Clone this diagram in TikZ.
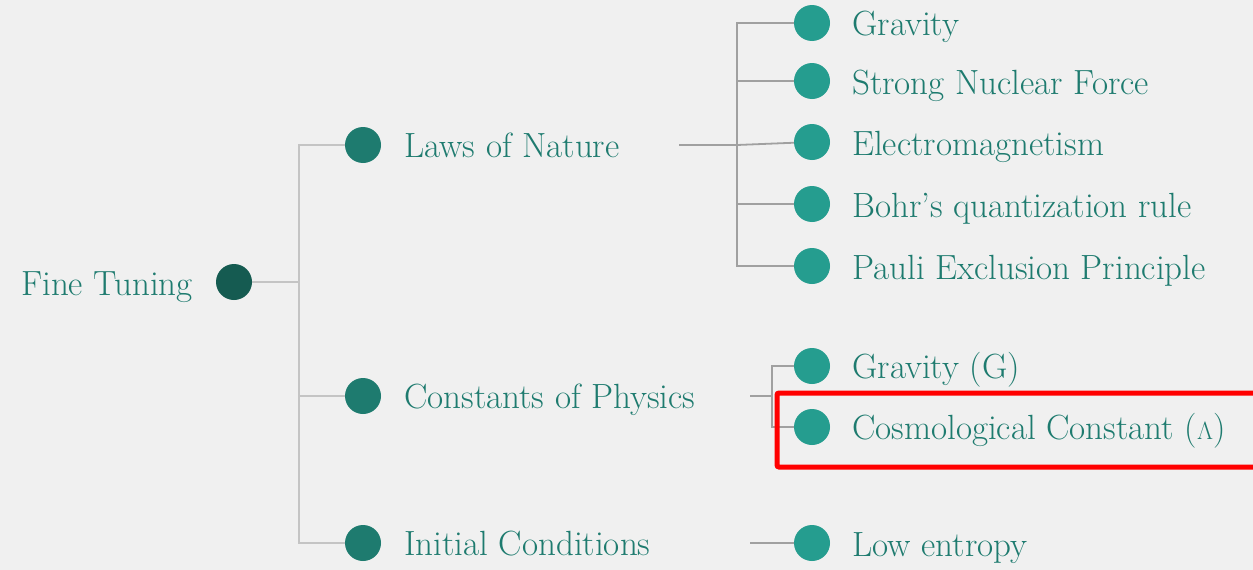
\documentclass[tikz,border=0pt]{standalone}
\definecolor{bg}{HTML}{F0F0F0}
\definecolor{txt}{HTML}{1E7B6F}
\definecolor{dotroot}{HTML}{155B51}
\definecolor{dotone}{HTML}{1E7B6F}
\definecolor{dottwo}{HTML}{259D8F}
\definecolor{lineone}{HTML}{C4C4C4}
\definecolor{linetwo}{HTML}{A0A0A0}
\begin{document}
\begin{tikzpicture}[x=1pt,y=-1pt,
  lbl/.style={anchor=base west,inner sep=0pt,text=txt,font=\fontsize{35}{42}\selectfont},
  rootlbl/.style={anchor=base east,inner sep=0pt,text=txt,font=\fontsize{35}{42}\selectfont},
  dot/.style={circle,inner sep=0pt,minimum size=36pt},
  rootdot/.style={dot,fill=dotroot},
  dotA/.style={dot,fill=dotone},
  dotB/.style={dot,fill=dottwo},
  connA/.style={draw=lineone,line width=1.8pt},
  connB/.style={draw=linetwo,line width=1.8pt},
  hilite/.style={draw=red,line width=5pt,rounded corners=2pt}]
\fill[bg] (0,0) rectangle (1253,570);
\useasboundingbox (0,0) rectangle (1253,570);
\clip (0,0) rectangle (1253,570);

% junction coordinates
\coordinate (j0) at (299,282);
\coordinate (s1) at (679,145);
\coordinate (j1) at (737,145);
\coordinate (s2) at (750,396);
\coordinate (j2) at (772,396);
\coordinate (s3) at (750,543);

% root
\node[rootdot] (root) at (234,282) {};
\node[rootlbl] (rootl) at (193,295) {Fine Tuning};

% level 1
\node[dotA] (laws) at (363,145) {};
\node[lbl] (lawsl) at (404,157) {Laws of Nature};
\node[dotA] (cons) at (363,396) {};
\node[lbl] (consl) at (404,408) {Constants of Physics};
\node[dotA] (init) at (363,543) {};
\node[lbl] (initl) at (404,555) {Initial Conditions};

% level 2: laws
\node[dotB] (grav) at (812,23) {};
\node[lbl] (gravl) at (852,35) {Gravity};
\node[dotB] (strong) at (812,81) {};
\node[lbl] (strongl) at (852,94) {Strong Nuclear Force};
\node[dotB] (em) at (812,142) {};
\node[lbl] (eml) at (852,155) {Electromagnetism};
\node[dotB] (bohr) at (812,204) {};
\node[lbl] (bohrl) at (852,217) {Bohr’s quantization rule};
\node[dotB] (pauli) at (812,266) {};
\node[lbl] (paulil) at (852,279) {Pauli Exclusion Principle};

% level 2: constants
\node[dotB] (gravg) at (812,366) {};
\node[lbl] (gravgl) at (852,378) {Gravity (G)};
\node[dotB] (cosmo) at (812,427) {};
\node[lbl] (cosmol) at (852,439) {Cosmological Constant ($\Lambda$)};

% level 2: initial
\node[dotB] (low) at (812,543) {};
\node[lbl] (lowl) at (852,556) {Low entropy};

% connectors
\path[connA] (root) -- (j0);
\path[connA] (j0) |- (laws);
\path[connA] (j0) |- (cons);
\path[connA] (j0) |- (init);
\path[connB] (s1) -- (j1);
\path[connB] (j1) |- (grav);
\path[connB] (j1) |- (strong);
\path[connB] (j1) -- (em);
\path[connB] (j1) |- (bohr);
\path[connB] (j1) |- (pauli);
\path[connB] (s2) -- (j2);
\path[connB] (j2) |- (gravg);
\path[connB] (j2) |- (cosmo);
\path[connB] (s3) -- (low);

% highlight
\draw[hilite] (777,393) rectangle (1262,467);
\end{tikzpicture}
\end{document}
